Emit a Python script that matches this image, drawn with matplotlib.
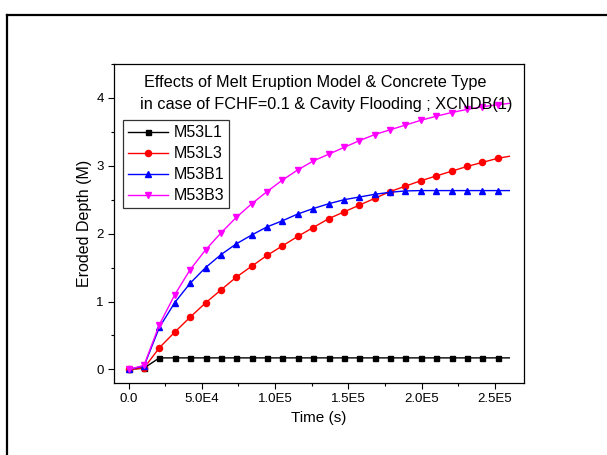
import matplotlib
matplotlib.use("Agg")
import matplotlib.pyplot as plt
from matplotlib.lines import Line2D
from matplotlib.ticker import MultipleLocator, FixedLocator, FixedFormatter

plt.rcParams['font.family'] = ['Liberation Sans', 'DejaVu Sans']

# ---- data ----
time_s = [0, 10500, 21000, 31500, 42000, 52500, 63000, 73500, 84000, 94500,
          105000, 115500, 126000, 136500, 147000, 157500, 168000, 178500,
          189000, 199500, 210000, 220500, 231000, 241500, 252000, 260000]

m53l1 = [0.0, 0.02] + [0.17] * 24
m53l3 = [0.0, 0.02, 0.32, 0.55, 0.77, 0.98, 1.17, 1.36, 1.52, 1.68, 1.82, 1.96,
         2.09, 2.22, 2.32, 2.42, 2.52, 2.62, 2.70, 2.78, 2.85, 2.92, 2.99, 3.05,
         3.11, 3.14]
m53b1 = [0.0, 0.05, 0.62, 0.985, 1.27, 1.50, 1.69, 1.85, 1.98, 2.10, 2.19, 2.29,
         2.37, 2.44, 2.50, 2.54, 2.58, 2.61, 2.63, 2.635, 2.635, 2.635, 2.635,
         2.635, 2.635, 2.635]
m53b3 = [0.0, 0.06, 0.66, 1.10, 1.47, 1.76, 2.01, 2.24, 2.44, 2.62, 2.79, 2.94,
         3.07, 3.17, 3.27, 3.37, 3.46, 3.53, 3.60, 3.67, 3.73, 3.785, 3.83, 3.87,
         3.90, 3.92]

series_names = ["M53L1", "M53L3", "M53B1", "M53B3"]
x_ticks = [0, 50000, 100000, 150000, 200000, 250000]
x_tick_labels = ["0.0", "5.0E4", "1.0E5", "1.5E5", "2.0E5", "2.5E5"]
y_ticks = [0, 1, 2, 3, 4]
y_tick_labels = ["0", "1", "2", "3", "4"]

title_line1 = "Effects of Melt Eruption Model & Concrete Type"
title_line2 = "in case of FCHF=0.1 & Cavity Flooding ; XCNDB(1)"

# ---- figure ----
W, H = 607, 455
fig = plt.figure(figsize=(W / 100, H / 100), dpi=100)
ax = fig.add_axes([114 / W, 1 - 383 / H, (524 - 114) / W, (383 - 64) / H])

marks = list(range(25))
styles = [
    dict(color="black", marker="s", ms=3.6),
    dict(color="#ff0000", marker="o", ms=4.4),
    dict(color="#0000ff", marker="^", ms=4.7),
    dict(color="#ff00ff", marker="v", ms=4.7),
]
for ys, name, st in zip([m53l1, m53l3, m53b1, m53b3], series_names, styles):
    ax.plot(time_s, ys, color=st["color"], lw=1.0, marker=st["marker"],
            ms=st["ms"], mec=st["color"], mfc=st["color"], markevery=marks,
            label=name)

ax.set_xlim(-10000, 270000)
ax.set_ylim(-0.2, 4.5)
ax.xaxis.set_major_locator(FixedLocator(x_ticks))
ax.xaxis.set_major_formatter(FixedFormatter(x_tick_labels))
ax.xaxis.set_minor_locator(MultipleLocator(25000))
ax.yaxis.set_major_locator(FixedLocator(y_ticks))
ax.yaxis.set_major_formatter(FixedFormatter(y_tick_labels))
ax.yaxis.set_minor_locator(MultipleLocator(0.5))
ax.tick_params(which="major", direction="out", length=4.5, width=0.8,
               labelsize=9.5, pad=3, top=False, right=False)
ax.tick_params(which="minor", direction="out", length=2.5, width=0.8,
               top=False, right=False)
for s in ax.spines.values():
    s.set_linewidth(0.9)

ax.set_xlabel("Time (s)", fontsize=11, labelpad=4)
ax.set_ylabel("Eroded Depth (M)", fontsize=11.5, labelpad=3)

fig.text(144 / W, 1 - 82 / H, title_line1, fontsize=11.7, ha="left", va="center")
fig.text(140 / W, 1 - 104 / H, title_line2, fontsize=11.7, ha="left", va="center")

leg = ax.legend(loc="upper left", bbox_to_anchor=((123 - 114) / 410, (383 - 120.5) / 319),
                fontsize=11.5, frameon=True, fancybox=False, edgecolor="black",
                handlelength=2.5, handletextpad=0.35, borderpad=0.3,
                labelspacing=0.38, borderaxespad=0)
leg.get_frame().set_linewidth(0.9)

# outer frame (left and top edges)
fig.add_artist(Line2D([7 / W, 7 / W], [0, 1 - 15 / H], color="black", lw=1.6,
                      transform=fig.transFigure))
fig.add_artist(Line2D([7 / W, 1], [1 - 15 / H, 1 - 15 / H], color="black", lw=1.6,
                      transform=fig.transFigure))

fig.savefig("out.png", dpi=100)
